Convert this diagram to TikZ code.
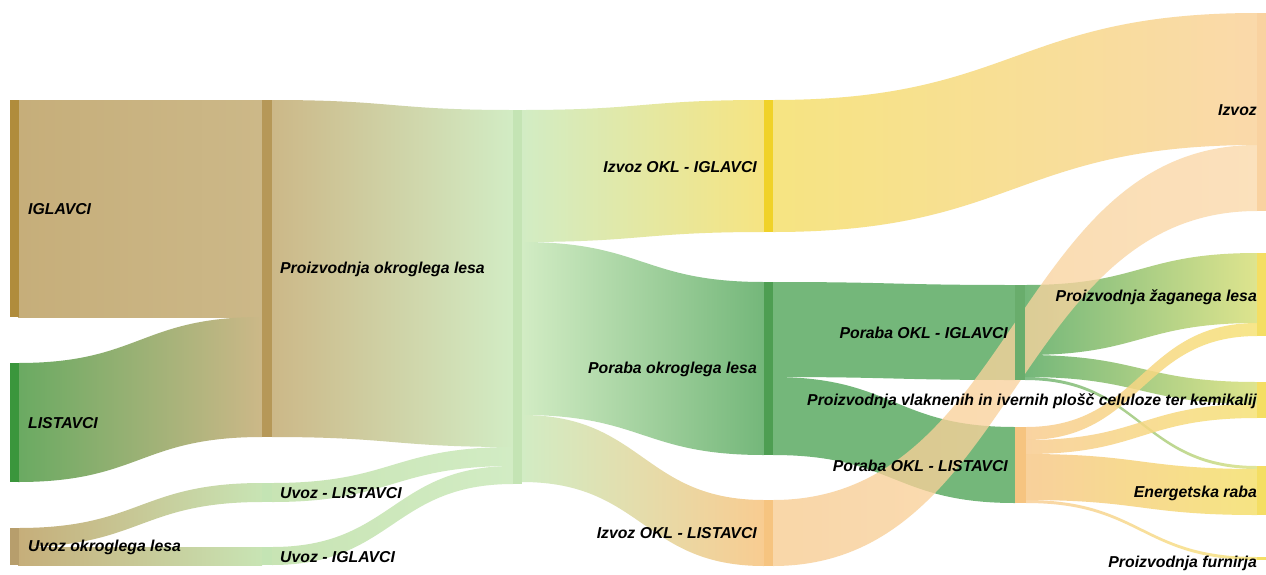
\documentclass[tikz,border=0pt]{standalone}
\usepackage{fontspec}
\setmainfont{Liberation Sans}
\usetikzlibrary{calc}
% colours
\definecolor{cIglBar}{RGB}{176,140,60}
\definecolor{cLisBar}{RGB}{58,150,60}
\definecolor{cUvozBar}{RGB}{183,158,108}
\definecolor{cProBar}{RGB}{182,152,88}
\definecolor{cLgBar}{RGB}{196,228,180}
\definecolor{cTan}{RGB}{198,174,122}
\definecolor{cTanB}{RGB}{204,184,136}
\definecolor{cLisBand}{RGB}{106,170,98}
\definecolor{cLight}{RGB}{210,236,196}
\definecolor{cLightB}{RGB}{200,228,180}
\definecolor{cYel}{RGB}{246,228,130}
\definecolor{cYelBar}{RGB}{240,210,40}
\definecolor{cGreen}{RGB}{116,183,122}
\definecolor{cGreenBar}{RGB}{78,158,82}
\definecolor{cOra}{RGB}{248,204,145}
\definecolor{cOraBar}{RGB}{246,196,128}
\definecolor{cPeach}{RGB}{250,217,170}
\definecolor{cPeachBar}{RGB}{249,210,160}
\definecolor{cTgtYel}{RGB}{246,226,118}
\definecolor{cTgtBar}{RGB}{244,222,100}
\definecolor{cGY}{RGB}{222,228,142}
% band: x0, ytop0, ybot0, x1, ytop1, ybot1, left colour, right colour, opacity
\newcommand\sband[9]{%
  \path[left color=#7, right color=#8, fill opacity=#9]
   (#1,#2) .. controls ({(#1+#4)/2},#2) and ({(#1+#4)/2},#5) .. (#4,#5)
   -- (#4,#6) .. controls ({(#1+#4)/2},#6) and ({(#1+#4)/2},#3) .. (#1,#3) -- cycle;}
\tikzset{
  bar/.style={rectangle, inner sep=0pt, outer sep=0pt, minimum width=9pt, anchor=north west, draw=none},
  lbl/.style={inner sep=0pt, font=\fontsize{15.8}{18}\selectfont\bfseries\itshape, text=black},
}
\begin{document}
\begin{tikzpicture}[x=1pt,y=-1pt]
\fill[white] (0,0) rectangle (1266,574);
\useasboundingbox (0,0) rectangle (1266,574);

% ---- bands column 0 -> 1
\sband{18}{100}{317}{262}{100}{317}{cTan}{cTanB}{1}
\sband{18}{363}{482}{262}{317}{437}{cLisBand}{cTanB}{1}
\sband{18}{528}{547}{262}{483}{502}{cTan}{cLightB}{1}
\sband{18}{547}{565}{262}{547}{565}{cTan}{cLightB}{1}
% ---- column 1 -> 2
\sband{272}{100}{437}{513}{110}{447}{cTanB}{cLight}{1}
\sband{272}{483}{502}{513}{447}{466}{cLightB}{cLight}{1}
\sband{272}{547}{565}{513}{466}{484}{cLightB}{cLight}{1}
% ---- column 2 -> 3
\sband{522}{110}{242}{764}{100}{232}{cLight}{cYel}{1}
\sband{522}{242}{415}{764}{282}{455}{cLight}{cGreen}{1}
\sband{522}{415}{482}{764}{500}{566}{cLight}{cOra}{1}
% ---- column 3 -> 4 / 5
\sband{773}{100}{232}{1257}{13}{145}{cYel}{cPeach}{1}
\sband{773}{282}{377}{1015}{285}{380}{cGreen}{cGreen}{1}
\sband{773}{377}{455}{1015}{427}{503}{cGreen}{cGreen}{1}
% ---- column 4 -> 5 (IGLAVCI)
\sband{1025}{285}{355}{1257}{253}{323}{cGreen}{cGY}{1}
\sband{1025}{355}{377}{1257}{382}{404}{cGreen}{cGY}{1}
\sband{1025}{377}{380}{1257}{466}{469}{cGreen}{cGY}{0.9}
% ---- column 3 LISTAVCI -> Izvoz (crossing)
\sband{773}{500}{566}{1257}{145}{211}{cOra}{cPeach}{0.78}
% ---- column 4 -> 5 (LISTAVCI)
\sband{1026}{427}{440}{1257}{323}{336}{cOra}{cTgtYel}{0.85}
\sband{1026}{440}{454}{1257}{404}{418}{cOra}{cTgtYel}{0.85}
\sband{1026}{454}{500}{1257}{469}{515}{cOra}{cTgtYel}{0.9}
\sband{1026}{500}{503}{1257}{557}{560}{cOra}{cTgtYel}{0.8}

% ---- bars (nodes)
\node[bar, fill=cIglBar, minimum height=217pt] (igl) at (10,100) {};
\node[bar, fill=cLisBar, minimum height=119pt] (lis) at (10,363) {};
\node[bar, fill=cUvozBar, minimum height=37pt] (uvoz) at (10,528) {};
\node[bar, fill=cProBar, minimum width=10pt, minimum height=337pt] (proiz) at (262,100) {};
\node[bar, fill=cLgBar, minimum width=10pt, minimum height=19pt] (uvlis) at (262,483) {};
\node[bar, fill=cLgBar, minimum width=10pt, minimum height=18pt] (uvigl) at (262,547) {};
\node[bar, fill=cLgBar, minimum height=374pt] (mid) at (513,110) {};
\node[bar, fill=cYelBar, minimum height=132pt] (izigl) at (764,100) {};
\node[bar, fill=cGreenBar, minimum height=173pt] (poraba) at (764,282) {};
\node[bar, fill=cOraBar, minimum height=66pt] (izlis) at (764,500) {};
\node[bar, fill=cGreenBar!85!white, minimum width=10pt, minimum height=95pt] (pigl) at (1015,285) {};
\node[bar, fill=cOraBar, minimum width=11pt, minimum height=76pt] (plis) at (1015,427) {};
\node[bar, fill=cPeachBar, minimum height=198pt] (izvoz) at (1257,13) {};
\node[bar, fill=cTgtBar, minimum height=83pt] (zag) at (1257,253) {};
\node[bar, fill=cTgtBar, minimum height=36pt] (vlak) at (1257,382) {};
\node[bar, fill=cTgtBar, minimum height=49pt] (energ) at (1257,466) {};
\node[bar, fill=cTgtBar, minimum height=3pt] (furn) at (1257,557) {};

% ---- labels
\node[lbl, anchor=west] (igl-l) at (28,209) {IGLAVCI};
\node[lbl, anchor=west] (lis-l) at (28,423) {LISTAVCI};
\node[lbl, anchor=west] (uvoz-l) at (28,547) {Uvoz okroglega lesa};
\node[lbl, anchor=west] (proiz-l) at (280,269) {Proizvodnja okroglega lesa};
\node[lbl, anchor=west] (uvlis-l) at (280,493) {Uvoz - LISTAVCI};
\node[lbl, anchor=west] (uvigl-l) at (280,557) {Uvoz - IGLAVCI};
\node[lbl, anchor=east] (izigl-l) at (757,167) {Izvoz OKL - IGLAVCI};
\node[lbl, anchor=east] (poraba-l) at (757,369) {Poraba okroglega lesa};
\node[lbl, anchor=east] (izlis-l) at (757,533) {Izvoz OKL - LISTAVCI};
\node[lbl, anchor=east] (pigl-l) at (1008,333) {Poraba OKL - IGLAVCI};
\node[lbl, anchor=east] (plis-l) at (1008,466) {Poraba OKL - LISTAVCI};
\node[lbl, anchor=east] (izvoz-l) at (1257,110) {Izvoz};
\node[lbl, anchor=east] (zag-l) at (1257,297) {Proizvodnja žaganega lesa};
\node[lbl, anchor=east] (vlak-l) at (1257,401) {Proizvodnja vlaknenih in ivernih plošč celuloze ter kemikalij};
\node[lbl, anchor=east] (energ-l) at (1257,493) {Energetska raba};
\node[lbl, anchor=east] (furn-l) at (1257,563) {Proizvodnja furnirja};
\end{tikzpicture}
\end{document}
